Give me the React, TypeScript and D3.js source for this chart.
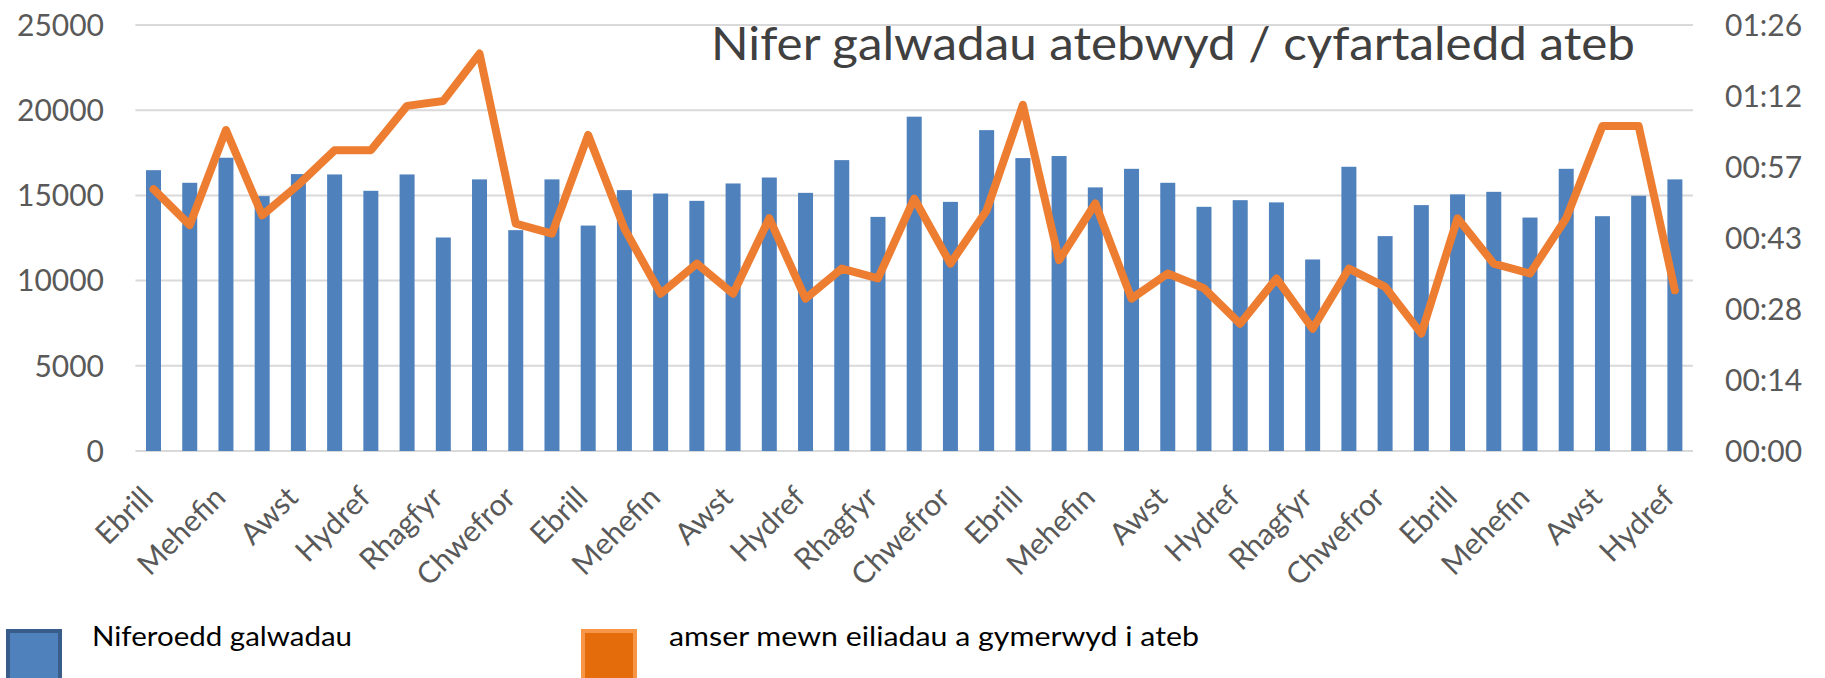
import React from 'react';
import * as d3 from 'd3';

// Welsh month names, the axis starts in April (Ebrill)
const MONTHS = [
  'Ebrill', 'Mai', 'Mehefin', 'Gorffennaf', 'Awst', 'Medi',
  'Hydref', 'Tachwedd', 'Rhagfyr', 'Ionawr', 'Chwefror', 'Mawrth'
];

// Number of calls answered per month (left axis)
const CALLS = [
  16480, 15740, 17210, 14960, 16250, 16230, 15270, 16230, 12530, 15940,
  12960, 15940, 13230, 15310, 15110, 14680, 15700, 16050, 15150, 17070,
  13740, 19620, 14620, 18830, 17190, 17310, 15470, 16560, 15740, 14330,
  14720, 14590, 11240, 16680, 12610, 14430, 15060, 15210, 13700, 16560,
  13780, 14980, 15940
];

// Average seconds taken to answer (right axis)
const SECONDS = [
  53.1, 45.8, 65.1, 47.8, 54.0, 61.0, 61.0, 70.0, 71.0, 80.6,
  46.1, 44.1, 64.1, 45.1, 31.9, 38.0, 31.9, 47.2, 30.9, 37.0,
  35.0, 51.2, 38.0, 48.8, 70.2, 38.7, 50.2, 30.9, 36.0, 33.0,
  25.8, 35.0, 24.8, 37.0, 33.3, 23.8, 47.2, 38.0, 36.0, 47.2,
  65.9, 65.9, 32.6
];

const LEFT_TICKS = [0, 5000, 10000, 15000, 20000, 25000];
const RIGHT_TICKS = [0, 14.4, 28.8, 43.2, 57.6, 72, 86.4];

const TITLE = 'Nifer galwadau atebwyd / cyfartaledd ateb';
const LEGEND_CALLS = 'Niferoedd galwadau';
const LEGEND_TIME = 'amser mewn eiliadau a gymerwyd i ateb';

const FONT = 'Lato, "Open Sans", sans-serif';
const BLUE = '#4f81bd';
const ORANGE = '#ed7d31';
const AXIS_TEXT = '#595959';

const W = 1825;
const H = 678;

const fmtTime = (s: number) => {
  const t = Math.floor(s + 1e-6);
  const m = Math.floor(t / 60);
  const sec = t % 60;
  return `${String(m).padStart(2, '0')}:${String(sec).padStart(2, '0')}`;
};

const App: React.FC = () => {
  const keys = CALLS.map((_, i) => String(i));
  const labels = CALLS.map((_, i) => MONTHS[i % 12]);

  const x = d3.scaleBand<string>()
    .domain(keys)
    .range([135.4, 1693])
    .paddingInner(0.586)
    .paddingOuter(0.293);

  const yLeft = d3.scaleLinear().domain([0, 25000]).range([451, 25]);
  const yRight = d3.scaleLinear().domain([0, 86.4]).range([451, 25]);

  const cx = (k: string) => (x(k) ?? 0) + x.bandwidth() / 2;

  const line = d3.line<number>()
    .x((_, i) => cx(keys[i]))
    .y(d => yRight(d));

  return (
    <svg width={W} height={H} style={{ position: 'absolute', left: 0, top: 0, background: '#fff' }}
      fontFamily={FONT}>
      {/* gridlines */}
      {LEFT_TICKS.map(t => (
        <line key={t} x1={135.4} x2={1693} y1={yLeft(t)} y2={yLeft(t)}
          stroke="#d9d9d9" strokeWidth={2} />
      ))}

      {/* left axis labels */}
      {LEFT_TICKS.map(t => (
        <text key={t} x={104} y={yLeft(t)} dy="0.36em" textAnchor="end"
          fontSize={30} fill={AXIS_TEXT}>{t}</text>
      ))}

      {/* right axis labels */}
      {RIGHT_TICKS.map(t => (
        <text key={t} x={1725} y={yRight(t)} dy="0.36em" textAnchor="start"
          fontSize={30} fill={AXIS_TEXT}>{fmtTime(t)}</text>
      ))}

      {/* bars */}
      {CALLS.map((v, i) => (
        <rect key={i} x={x(keys[i])} y={yLeft(v)} width={x.bandwidth()}
          height={yLeft(0) - yLeft(v)} fill={BLUE} />
      ))}

      {/* line */}
      <path d={line(SECONDS) ?? ''} fill="none" stroke={ORANGE} strokeWidth={8}
        strokeLinejoin="round" strokeLinecap="round" />

      {/* x labels, every second month */}
      {keys.filter((_, i) => i % 2 === 0).map(k => {
        const px = cx(k) - 6;
        const py = 492;
        return (
          <text key={k} x={px} y={py} dy="0.35em" textAnchor="end" fontSize={30}
            fill={AXIS_TEXT} transform={`rotate(-45, ${px}, ${py})`}>
            {labels[+k]}
          </text>
        );
      })}

      {/* title */}
      <text x={711} y={60} fontSize={46} fill="#404040" textLength={924}
        lengthAdjust="spacingAndGlyphs">{TITLE}</text>

      {/* legend */}
      <rect x={8} y={631} width={52} height={52} fill={BLUE} stroke="#385d8a" strokeWidth={4} />
      <text x={92} y={646} fontSize={27} fill="#000" textLength={260}
        lengthAdjust="spacingAndGlyphs">{LEGEND_CALLS}</text>
      <rect x={583} y={631} width={52} height={52} fill="#e46c0a" stroke="#f79646" strokeWidth={4} />
      <text x={669} y={646} fontSize={27} fill="#000" textLength={530}
        lengthAdjust="spacingAndGlyphs">{LEGEND_TIME}</text>
    </svg>
  );
};

export default App;
